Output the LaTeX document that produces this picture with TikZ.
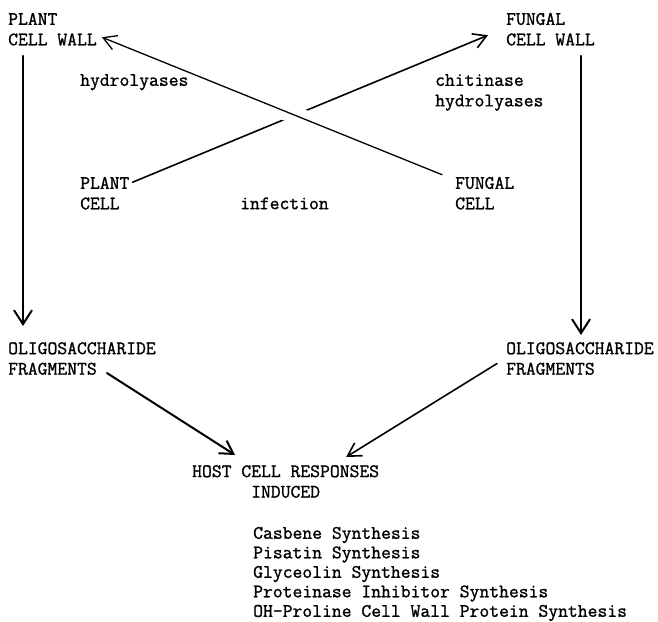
\documentclass[tikz,border=0pt]{standalone}
\usepackage{fontspec}
\setmonofont{Latin Modern Mono}[FakeBold=1.2]
\usepackage{tikz}
\usetikzlibrary{arrows.meta}

\begin{document}
\begin{tikzpicture}[line cap=round,line join=round,x=1pt,y=-1pt,
	font=\ttfamily\fontsize{19.1}{20.5}\selectfont,
	lbl/.style={anchor=north west,inner sep=0pt,align=left},
	arr/.style={-{Straight Barb[length=13pt,width=15pt]},line width=1.6pt},
	bigarr/.style={-{Straight Barb[length=14pt,width=18pt]},line width=2pt}]
	\useasboundingbox (0,0) rectangle (658,621);
	\node[lbl] (pwall) at (8,12.7) {PLANT\\CELL WALL};
	\node[lbl] (fwall) at (506,12.7) {FUNGAL\\CELL WALL};
	\node[lbl] (hydro) at (80,74) {hydrolyases};
	\node[lbl] (chit) at (435,74) {chitinase\\hydrolyases};
	\node[lbl] (pcell) at (80,176.7) {PLANT\\CELL};
	\node[lbl] (fcell) at (455,176.7) {FUNGAL\\CELL};
	\node[lbl,anchor=base west] (infect) at (240,209.2) {infection};
	\node[lbl] (loligo) at (8,342) {OLIGOSACCHARIDE\\FRAGMENTS};
	\node[lbl] (roligo) at (506,342) {OLIGOSACCHARIDE\\FRAGMENTS};
	\node[lbl,align=center] (host) at (192,465) {HOST CELL RESPONSES\\INDUCED};
	\node[lbl,font=\ttfamily\fontsize{19.1}{19.5}\selectfont] (resp) at (253,526.7) {Casbene Synthesis\\Pisatin Synthesis\\Glyceolin Synthesis\\Proteinase Inhibitor Synthesis\\OH-Proline Cell Wall Protein Synthesis};
	\draw [bigarr] ([xshift=15pt,yshift=-10pt]pwall.south west) -- ([xshift=15pt,yshift=16pt]loligo.north west);
	\draw [bigarr] ([xshift=75pt,yshift=-10pt]fwall.south west) -- ([xshift=75pt,yshift=7pt]roligo.north west);
	\draw [arr] ([xshift=3pt,yshift=11pt]pcell.east) -- ([xshift=-18pt,yshift=-6pt]fwall.west);
	\draw [arr,line width=1.3pt,preaction={draw=white,-,line width=18pt,shorten <=147pt,shorten >=195pt}] ([xshift=-13pt,yshift=2pt]fcell.north west) -- ([xshift=5pt,yshift=-8pt]pwall.east);
	\draw [arr,line width=2pt] ([xshift=99pt,yshift=2pt]loligo.south west) -- ([xshift=-50.5pt,yshift=10pt]host.north);
	\draw [arr] ([xshift=-9pt,yshift=-5pt]roligo.west) -- ([xshift=60.5pt,yshift=8pt]host.north);
\end{tikzpicture}
\end{document}
